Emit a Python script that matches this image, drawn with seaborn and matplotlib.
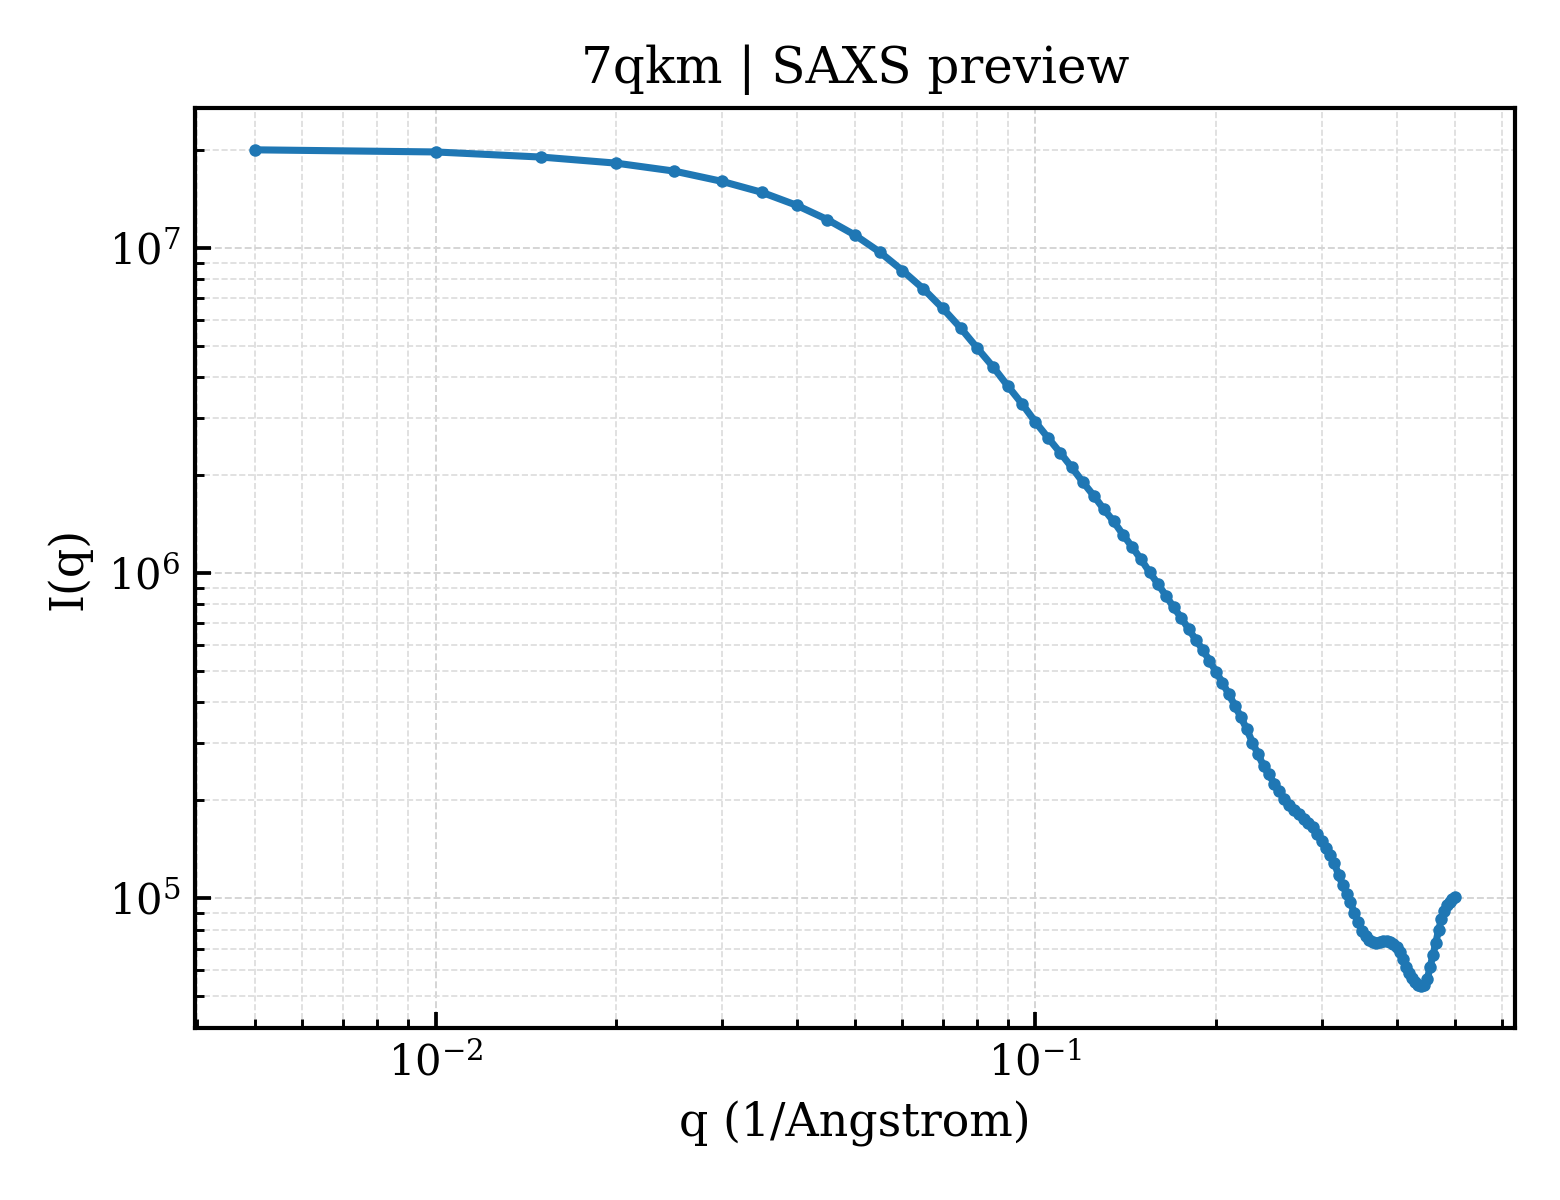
import numpy as np
import pandas as pd
import matplotlib
matplotlib.use("Agg")
import matplotlib.pyplot as plt
import seaborn as sns

# ---- data ----
q_values = [round(0.005 * k, 3) for k in range(1, 101)]
intensity = [
    2.00e7, 1.97e7, 1.90e7, 1.82e7, 1.72e7, 1.60e7, 1.48e7, 1.35e7, 1.22e7, 1.094e7,
    9.70e6, 8.51e6, 7.48e6, 6.52e6, 5.67e6, 4.91e6, 4.30e6, 3.75e6, 3.31e6, 2.91e6,
    2.60e6, 2.34e6, 2.11e6, 1.90e6, 1.73e6, 1.57e6, 1.44e6, 1.31e6, 1.20e6, 1.10e6,
    1.005e6, 9.25e5, 8.51e5, 7.84e5, 7.27e5, 6.73e5, 6.23e5, 5.81e5, 5.37e5, 4.97e5,
    4.59e5, 4.24e5, 3.91e5, 3.60e5, 3.31e5, 3.01e5, 2.77e5, 2.55e5, 2.40e5, 2.25e5,
    2.13e5, 2.02e5, 1.93e5, 1.86e5, 1.81e5, 1.75e5, 1.70e5, 1.65e5, 1.58e5, 1.50e5,
    1.43e5, 1.36e5, 1.28e5, 1.18e5, 1.10e5, 1.03e5, 9.70e4, 9.00e4, 8.45e4, 7.95e4,
    7.65e4, 7.45e4, 7.35e4, 7.30e4, 7.31e4, 7.36e4, 7.38e4, 7.35e4, 7.25e4, 7.10e4,
    6.85e4, 6.50e4, 6.15e4, 5.90e4, 5.70e4, 5.52e4, 5.40e4, 5.36e4, 5.42e4, 5.65e4,
    6.15e4, 6.70e4, 7.30e4, 8.00e4, 8.60e4, 9.10e4, 9.50e4, 9.75e4, 9.95e4, 1.01e5,
]
title_text = "7qkm | SAXS preview"
x_label = "q (1/Angstrom)"
y_label = "I(q)"

df = pd.DataFrame({"q": q_values, "I": intensity})

sns.set_theme(style="white")
plt.rcParams["font.family"] = ["DejaVu Serif"]
plt.rcParams["mathtext.fontset"] = "dejavuserif"
plt.rcParams["text.color"] = "black"
plt.rcParams["axes.labelcolor"] = "black"
plt.rcParams["xtick.color"] = "black"
plt.rcParams["ytick.color"] = "black"

fig, ax = plt.subplots(figsize=(5.2, 4.0), dpi=300)
fig.subplots_adjust(left=0.125, right=0.971, top=0.91, bottom=0.1433)

sns.lineplot(data=df, x="q", y="I", ax=ax, color="#1f77b4", linewidth=1.7,
             marker="o", markersize=3.0, markeredgewidth=0)
ax.set_xscale("log")
ax.set_yscale("log")
ax.margins(x=0.05, y=0.05)

ax.grid(True, which="major", linestyle="--", linewidth=0.45, color="#d4d4d4")
ax.grid(True, which="minor", linestyle="--", linewidth=0.4, color="#dcdcdc")
ax.set_axisbelow(True)

for s in ax.spines.values():
    s.set_linewidth(1.0)
    s.set_color("black")

ax.tick_params(which="major", direction="in", length=3.8, width=0.9,
               labelsize=10, colors="black", left=True, bottom=True)
ax.tick_params(which="minor", direction="in", length=2.2, width=0.7,
               left=True, bottom=True)

ax.set_title(title_text, fontsize=12, color="black")
ax.set_xlabel(x_label, fontsize=11, color="black")
ax.set_ylabel(y_label, fontsize=11, color="black")

fig.savefig("out.png", dpi=300)
